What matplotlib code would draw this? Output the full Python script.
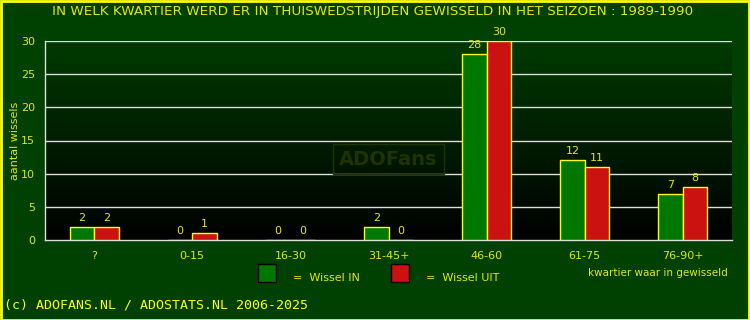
import numpy as np
import matplotlib
matplotlib.use("Agg")
import matplotlib.pyplot as plt
from matplotlib.patches import Rectangle
from matplotlib.colors import LinearSegmentedColormap

categories = ["?", "0-15", "16-30", "31-45+", "46-60", "61-75", "76-90+"]
wissel_in = [2, 0, 0, 2, 28, 12, 7]
wissel_uit = [2, 1, 0, 0, 30, 11, 8]
yticks = [0, 5, 10, 15, 20, 25, 30]

W, H = 750, 320
fig = plt.figure(figsize=(W / 100, H / 100), dpi=100)
fig.patch.set_facecolor("#004000")
YEL = "#e6e600"

# border
fig.add_artist(Rectangle((0.5 / W, 0.5 / H), 1 - 1.5 / W, 1 - 1.5 / H, transform=fig.transFigure,
                         fill=False, edgecolor="#ffff00", linewidth=2))

x0, x1, ytop, ybot = 45, 732, 41, 240
ax = fig.add_axes([x0 / W, 1 - ybot / H, (x1 - x0) / W, (ybot - ytop) / H])
ax.set_xlim(0, len(categories))
ax.set_ylim(0, 30)

# gradient background
cmap = LinearSegmentedColormap.from_list("g", ["#000000", "#003a00"])
grad = np.linspace(0, 1, 256).reshape(-1, 1)
ax.imshow(grad, extent=[0, len(categories), 0, 30], origin="lower", aspect="auto", cmap=cmap, zorder=0)

for y in yticks[1:]:
    ax.axhline(y, color="#dddddd", linewidth=1.0, zorder=1)

bw = 0.25
x = np.arange(len(categories)) + 0.5
ax.bar(x - bw / 2, wissel_in, bw, color="#007800", edgecolor="#ffff00", linewidth=1, zorder=3)
ax.bar(x + bw / 2, wissel_uit, bw, color="#cc1111", edgecolor="#ffff00", linewidth=1, zorder=3)
for xi, v in zip(x - bw / 2, wissel_in):
    ax.text(xi, v + 0.6, str(v), ha="center", va="bottom", color=YEL, fontsize=8, zorder=4)
for xi, v in zip(x + bw / 2, wissel_uit):
    ax.text(xi, v + 0.6, str(v), ha="center", va="bottom", color=YEL, fontsize=8, zorder=4, clip_on=False)

ax.set_xticks(x)
ax.set_xticklabels(categories)
ax.set_yticks(yticks)
ax.tick_params(colors=YEL, labelsize=8, length=0, pad=8)
ax.tick_params(axis="y", pad=7)
for s in ["top", "right"]:
    ax.spines[s].set_visible(False)
for s in ["left", "bottom"]:
    ax.spines[s].set_color("#dddddd")
    ax.spines[s].set_linewidth(1.0)
ax.set_ylabel("aantal wissels", color=YEL, fontsize=8)
ax.yaxis.set_label_coords(-(45 - 20) / (x1 - x0), 0.5)

# watermark
ax.text(3.5, 12.2, "ADOFans", ha="center", va="center", color="#1f3300", fontsize=14,
        fontweight="bold", zorder=2,
        bbox=dict(boxstyle="square,pad=0.3", fc="none", ec="#1f3300", lw=1))

fig.text(373 / W, 1 - 12 / H, "IN WELK KWARTIER WERD ER IN THUISWEDSTRIJDEN GEWISSELD IN HET SEIZOEN : 1989-1990",
         ha="center", va="center", color=YEL, fontsize=9.7)

# legend
fig.add_artist(Rectangle((258 / W, 1 - 282 / H), 18 / W, 18 / H, transform=fig.transFigure,
                         facecolor="#007800", edgecolor="black", linewidth=1))
fig.text(293 / W, 1 - 278 / H, "=  Wissel IN", ha="left", va="center", color=YEL, fontsize=8)
fig.add_artist(Rectangle((391 / W, 1 - 282 / H), 18 / W, 18 / H, transform=fig.transFigure,
                         facecolor="#cc1111", edgecolor="black", linewidth=1))
fig.text(426 / W, 1 - 278 / H, "=  Wissel UIT", ha="left", va="center", color=YEL, fontsize=8)
fig.text(728 / W, 1 - 273 / H, "kwartier waar in gewisseld", ha="right", va="center", color=YEL, fontsize=7.5)

fig.text(4 / W, 1 - 305 / H, "(c) ADOFANS.NL / ADOSTATS.NL 2006-2025", ha="left", va="center",
         color="#ffff00", fontsize=9.5, family="DejaVu Sans Mono")

fig.savefig("out.png", dpi=100, facecolor=fig.get_facecolor())
